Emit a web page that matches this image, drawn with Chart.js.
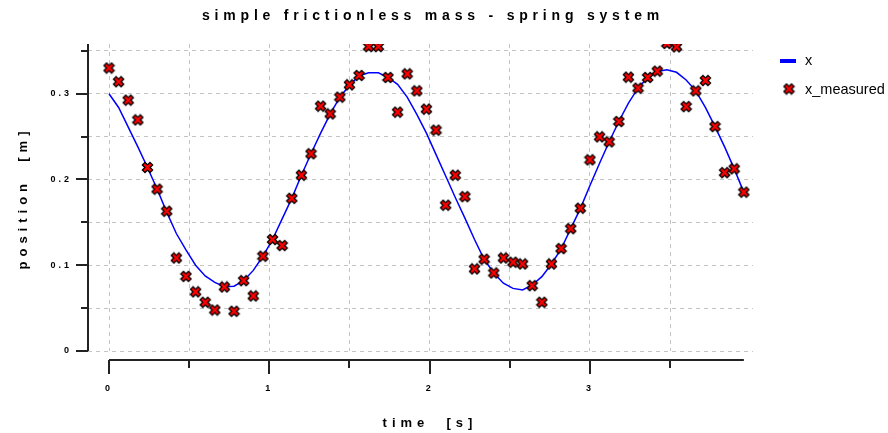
<!DOCTYPE html>
<html>
<head>
<meta charset="utf-8">
<script src="https://cdn.jsdelivr.net/npm/chart.js@4.4.1/dist/chart.umd.min.js"></script>
<style>
  html, body { margin: 0; padding: 0; background: #fff; }
  #wrap { width: 888px; height: 433px; position: relative; }
</style>
</head>
<body>
<div id="wrap"><canvas id="springChart"></canvas></div>
<script>
// sample times [s]
const times = [0, 0.06, 0.12, 0.18, 0.24, 0.30, 0.36, 0.42, 0.48, 0.54,
  0.60, 0.66, 0.72, 0.78, 0.84, 0.90, 0.96, 1.02, 1.08, 1.14,
  1.20, 1.26, 1.32, 1.38, 1.44, 1.50, 1.56, 1.62, 1.68, 1.74,
  1.80, 1.86, 1.92, 1.98, 2.04, 2.10, 2.16, 2.22, 2.28, 2.34,
  2.40, 2.46, 2.52, 2.58, 2.64, 2.70, 2.76, 2.82, 2.88, 2.94,
  3.00, 3.06, 3.12, 3.18, 3.24, 3.30, 3.36, 3.42, 3.48, 3.54,
  3.60, 3.66, 3.72, 3.78, 3.84, 3.90, 3.96];

// position x [m]
const xTrue = [0.300, 0.284, 0.261, 0.238, 0.214, 0.189, 0.162, 0.137, 0.118, 0.100,
  0.0875, 0.080, 0.075, 0.0755, 0.082, 0.094, 0.1105, 0.130, 0.154, 0.178,
  0.205, 0.230, 0.254, 0.2765, 0.296, 0.310, 0.321, 0.3245, 0.3245, 0.319,
  0.311, 0.296, 0.276, 0.254, 0.229, 0.204, 0.179, 0.155, 0.130, 0.107,
  0.091, 0.079, 0.073, 0.0712, 0.077, 0.0867, 0.1015, 0.119, 0.1427, 0.166,
  0.193, 0.219, 0.244, 0.2676, 0.289, 0.3065, 0.319, 0.326, 0.328, 0.325,
  0.316, 0.3034, 0.284, 0.2617, 0.238, 0.2124, 0.185];

// x_measured [m]
const xMeasured = [0.330, 0.314, 0.2925, 0.2695, 0.214, 0.1887, 0.163, 0.1085, 0.087, 0.069,
  0.0568, 0.0478, 0.0747, 0.0463, 0.082, 0.0642, 0.1105, 0.130, 0.123, 0.178,
  0.205, 0.230, 0.2855, 0.2765, 0.296, 0.3104, 0.3213, 0.355, 0.355, 0.319,
  0.2785, 0.3232, 0.3034, 0.282, 0.2575, 0.170, 0.205, 0.180, 0.0957, 0.107,
  0.091, 0.1085, 0.1035, 0.1015, 0.0762, 0.0568, 0.1015, 0.1194, 0.1427, 0.1665,
  0.2229, 0.2497, 0.2439, 0.2676, 0.3193, 0.3065, 0.319, 0.3263, 0.3586, 0.3547,
  0.285, 0.3034, 0.3154, 0.2617, 0.208, 0.2124, 0.1852];

const xTickVals = [0, 0.5, 1, 1.5, 2, 2.5, 3, 3.5];
const xTickLabels = ['0', '', '1', '', '2', '', '3', ''];
const yTickVals = [0, 0.05, 0.1, 0.15, 0.2, 0.25, 0.3, 0.35];
const yTickLabels = ['0', '', '0.1', '', '0.2', '', '0.3', ''];

const FONT = '"Liberation Sans", Arial, sans-serif';

// red cross marker with black outline
function makeMarker() {
    const c = document.createElement('canvas');
    c.width = 13; c.height = 13;
    const g = c.getContext('2d');
    g.lineCap = 'square';
    function cross(w, col) {
        g.strokeStyle = col;
        g.lineWidth = w;
        g.beginPath();
        g.moveTo(4, 4); g.lineTo(9, 9);
        g.moveTo(9, 4); g.lineTo(4, 9);
        g.stroke();
    }
    cross(5, '#000');
    cross(2.4, '#ff0000');
    return c;
}
const marker = makeMarker();

const lineData = times.map((t, i) => ({ x: t, y: xTrue[i] }));
const measData = times.map((t, i) => ({ x: t, y: xMeasured[i] }));

// axes, titles and legend drawn around the plot
const decorations = {
    id: 'decorations',
    beforeDraw(chart) {
        chart.ctx.letterSpacing = '3px';
    },
    afterDraw(chart) {
        const ctx = chart.ctx;
        const xs = chart.scales.x, ys = chart.scales.y;
        const area = chart.chartArea;
        ctx.save();
        ctx.strokeStyle = '#222';
        ctx.lineWidth = 2;
        // y axis
        ctx.beginPath();
        ctx.moveTo(area.left, area.top);
        ctx.lineTo(area.left, area.bottom);
        yTickVals.forEach((v, i) => {
            const py = Math.round(ys.getPixelForValue(v));
            ctx.moveTo(area.left, py);
            ctx.lineTo(area.left - (yTickLabels[i] ? 12 : 7), py);
        });
        ctx.stroke();
        // x axis, detached below the plot
        const ay = area.bottom + 9;
        const x0 = xs.getPixelForValue(times[0]);
        const x1 = xs.getPixelForValue(times[times.length - 1]);
        ctx.beginPath();
        ctx.moveTo(x0, ay);
        ctx.lineTo(x1, ay);
        xTickVals.forEach((v, i) => {
            const px = Math.round(xs.getPixelForValue(v));
            ctx.moveTo(px, ay);
            ctx.lineTo(px, ay + (xTickLabels[i] ? 14 : 8));
        });
        ctx.stroke();

        // titles
        ctx.fillStyle = '#000';
        ctx.font = 'bold 14px ' + FONT;
        ctx.letterSpacing = '4.8px';
        ctx.textAlign = 'center';
        ctx.textBaseline = 'middle';
        ctx.fillText('simple frictionless mass - spring system', 433, 16);
        ctx.font = 'bold 13px ' + FONT;
        ctx.letterSpacing = '5px';
        ctx.fillText('time  [s]', 430, 423);
        ctx.save();
        ctx.translate(23, 198);
        ctx.rotate(-Math.PI / 2);
        ctx.fillText('position  [m]', 0, 0);
        ctx.restore();

        // legend
        ctx.letterSpacing = '0px';
        ctx.font = '14.5px ' + FONT;
        ctx.textAlign = 'left';
        ctx.fillStyle = '#0000ff';
        ctx.fillRect(780, 59, 16, 4);
        ctx.drawImage(marker, 789 - 6.5, 89 - 6.5);
        ctx.fillStyle = '#000';
        ctx.fillText('x', 805, 61);
        ctx.fillText('x_measured', 805, 90);
        ctx.restore();
    }
};

new Chart(document.getElementById('springChart'), {
    type: 'scatter',
    data: {
        datasets: [{
            label: 'x_measured',
            data: measData,
            pointStyle: marker,
            pointRadius: 6,
            order: 1
        }, {
            type: 'line',
            label: 'x',
            data: lineData,
            borderColor: '#0000ff',
            borderWidth: 1.5,
            pointRadius: 0,
            tension: 0,
            fill: false,
            order: 2
        }]
    },
    options: {
        responsive: true,
        maintainAspectRatio: false,
        animation: false,
        devicePixelRatio: 1,
        layout: { padding: { top: 44, right: 135, left: 0, bottom: 0 } },
        plugins: {
            legend: { display: false },
            title: { display: false },
            tooltip: { enabled: false }
        },
        scales: {
            x: {
                type: 'linear',
                min: -0.131,
                max: 4.017,
                afterBuildTicks: s => { s.ticks = xTickVals.map(v => ({ value: v })); },
                afterFit: s => { s.height = 82; },
                grid: { color: '#c4c4c4', lineWidth: 1, drawTicks: false },
                border: { display: false, dash: [4, 4] },
                ticks: {
                    autoSkip: false,
                    maxRotation: 0,
                    padding: 32,
                    color: '#000',
                    font: { family: FONT, size: 9, weight: 'bold' },
                    callback: (v, i) => xTickLabels[i]
                }
            },
            y: {
                min: 0,
                max: 0.358,
                afterBuildTicks: s => { s.ticks = yTickVals.map(v => ({ value: v })); },
                afterFit: s => { s.width = 88; },
                grid: { color: '#c4c4c4', lineWidth: 1, drawTicks: false },
                border: { display: false, dash: [4, 4] },
                ticks: {
                    autoSkip: false,
                    padding: 16,
                    color: '#000',
                    font: { family: FONT, size: 9, weight: 'bold' },
                    callback: (v, i) => yTickLabels[i]
                }
            }
        }
    },
    plugins: [decorations]
});
</script>
</body>
</html>
